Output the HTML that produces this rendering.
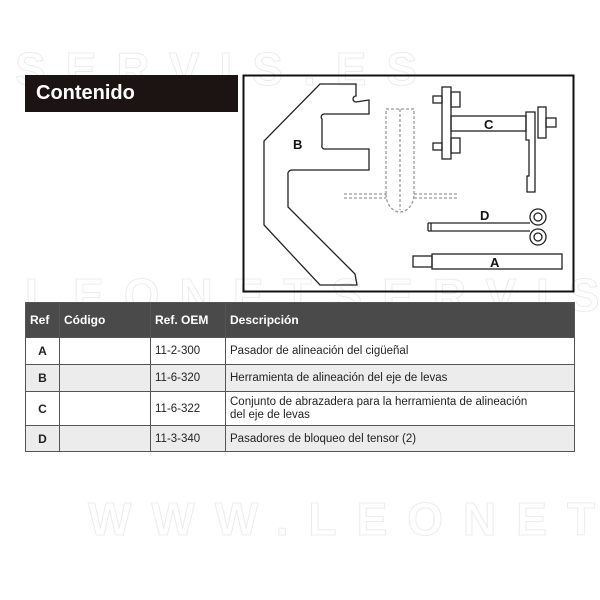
<!DOCTYPE html>
<html><head><meta charset="utf-8"><style>
body{margin:0;background:#fff;width:600px;height:600px;overflow:hidden;position:relative;font-family:"Liberation Sans",sans-serif}
.wm{position:absolute;color:transparent;-webkit-text-stroke:1px #ececec;font-size:46px;font-weight:bold;letter-spacing:20px;white-space:nowrap}
#hdr{position:absolute;left:25px;top:75px;width:213px;height:37px;background:#1c1412;color:#fff;font-weight:bold;font-size:20px;line-height:37px;padding-left:11px;box-sizing:border-box}
table{position:absolute;left:25px;top:302px;width:550px;border-collapse:collapse;font-size:11.5px;color:#222}
td,th{border:1px solid #555;padding:0 4px;text-align:left}
th{background:#4a4a4a;color:#fff;height:34px;font-size:12px}
td.r{text-align:center;font-weight:bold;font-size:12px}
tr.g td{background:#ececec}
</style></head><body>
<div class="wm" style="left:15px;top:42px">SERVIS.ES</div>
<div class="wm" style="left:25px;top:268px">LEONETSERVIS</div>
<div class="wm" style="left:88px;top:492px">WWW.LEONET</div>
<div id="hdr">Contenido</div>
<svg style="position:absolute;left:0;top:0" width="600" height="600">
<rect x="243.5" y="75.5" width="330" height="216" fill="none" stroke="#111" stroke-width="2"/>
<g fill="none" stroke="#222" stroke-width="1.3">
<path d="M320,84 L356,84 L356,96 A3,3 0 0 0 356,102 L369,100 L369,114 L324,114 A3,3 0 0 0 322,119 L322,145 A3,3 0 0 0 324,149 L369,149 L369,170 L292,170 A4,4 0 0 0 288,175 L288,207 L355,274 L357,285 L320,285 L264,225 L264,141 Z"/>
<g stroke-dasharray="3,2" stroke="#999"><path d="M386,194 L386,109 L414,109 L414,194 A14,18 0 0 1 386,194 M400,109 L400,210 M344,194 L386,194 M414,194 L457,194 M344,198 L386,198 M414,198 L457,198"/></g>
<rect x="442" y="87" width="9" height="72" fill="#fff"/>
<rect x="433" y="96" width="9" height="7"/><rect x="451" y="92" width="9" height="15"/>
<rect x="433" y="143" width="9" height="7"/><rect x="451" y="138" width="9" height="15"/>
<rect x="451" y="116" width="75" height="15"/>
<path d="M526,112 L535,112 L535,192 L527,192 L527,176 L529,176 L529,140 L526,140 Z"/>
<rect x="538" y="107" width="8" height="31"/><rect x="546" y="118" width="10" height="9"/>
<path d="M428,223 L530,223 M428,231 L530,231 M428,223 L428,231 M431,223 L431,231"/>
<circle cx="538" cy="217" r="8"/><circle cx="538" cy="217" r="4"/>
<circle cx="538" cy="237" r="8"/><circle cx="538" cy="237" r="4"/>
<rect x="413" y="256" width="19" height="11"/><rect x="432" y="254" width="130" height="15"/>
</g>
<g font-weight="bold" font-size="13" fill="#111">
<text x="293" y="149">B</text><text x="484" y="129">C</text><text x="480" y="220">D</text><text x="490" y="267">A</text></g>
</svg>
<table>
<tr><th style="width:25px">Ref</th><th style="width:82px">Código</th><th style="width:66px">Ref. OEM</th><th>Descripción</th></tr>
<tr style="height:27px"><td class="r">A</td><td></td><td>11-2-300</td><td>Pasador de alineación del cigüeñal</td></tr>
<tr class="g" style="height:27px"><td class="r">B</td><td></td><td>11-6-320</td><td>Herramienta de alineación del eje de levas</td></tr>
<tr style="height:34px"><td class="r">C</td><td></td><td>11-6-322</td><td style="line-height:13px">Conjunto de abrazadera para la herramienta de alineación<br>del eje de levas</td></tr>
<tr class="g" style="height:26px"><td class="r">D</td><td></td><td>11-3-340</td><td>Pasadores de bloqueo del tensor (2)</td></tr>
</table>
</body></html>
